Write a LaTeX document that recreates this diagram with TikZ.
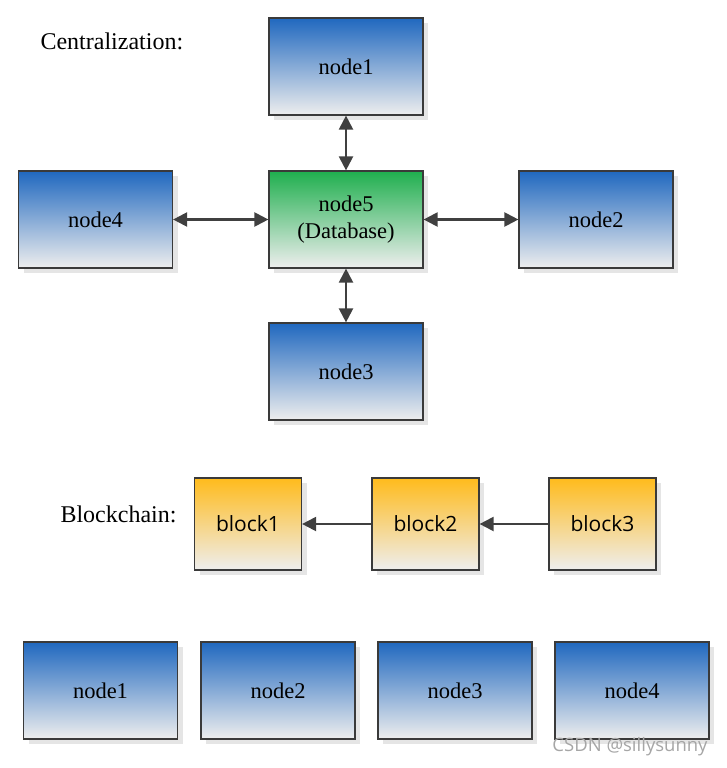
\documentclass[tikz,border=0pt]{standalone}
\usepackage{fontspec}
\setmainfont{Liberation Serif}
\newfontfamily\blockfont{Open Sans}
\usetikzlibrary{arrows.meta,shadows}
\definecolor{boxline}{HTML}{3A3A3A}
\definecolor{arrowgray}{HTML}{404040}
\definecolor{topblue}{HTML}{2068BF}
\definecolor{topgreen}{HTML}{1FAF4E}
\definecolor{toporange}{HTML}{FFBB1C}
\definecolor{bottomgray}{HTML}{EEEEEE}
\begin{document}
\begin{tikzpicture}[x=1pt,y=-1pt,
  box/.style={draw=boxline,line width=1.2pt,minimum width=154pt,minimum height=97pt,
    inner sep=0pt,top color=topblue,bottom color=bottomgray,
    drop shadow={shadow xshift=5pt,shadow yshift=-5pt,fill=gray!40,opacity=0.5},
    font=\fontsize{22.5}{27}\selectfont,align=center},
  dbbox/.style={box,top color=topgreen},
  blockbox/.style={box,minimum width=107pt,minimum height=92pt,top color=toporange,
    font=\blockfont\fontsize{21}{25}\selectfont},
  link/.style={draw=arrowgray,line width=2.2pt,{Triangle[length=14pt,width=14pt]}-{Triangle[length=14pt,width=14pt]}},
  chain/.style={draw=arrowgray,line width=2.2pt,-{Triangle[length=14pt,width=14pt]}},
  title/.style={anchor=west,font=\fontsize{24}{28}\selectfont}]
\useasboundingbox (0,0) rectangle (726,768);
% centralization
\node[title] (ctitle) at (37,41) {Centralization:};
\node[box] (c1) at (346,66.5) {node1};
\node[dbbox] (c5) at (346,219.5) {node5\\(Database)};
\node[box] (c4) at (95.5,219.5) {node4};
\node[box] (c2) at (596,219.5) {node2};
\node[box] (c3) at (346,371.5) {node3};
\draw[link] (c1) -- (c5);
\draw[link] (c4) -- (c5);
\draw[link] (c5) -- (c2);
\draw[link] (c5) -- (c3);
% blockchain
\node[title] (btitle) at (57,514) {Blockchain:};
\node[blockbox] (b1) at (248,524) {block1};
\node[blockbox] (b2) at (425.5,524) {block2};
\node[blockbox] (b3) at (602.5,524) {block3};
\draw[chain] (b2) -- (b1);
\draw[chain] (b3) -- (b2);
% peers
\node[box] (p1) at (100.5,690.5) {node1};
\node[box] (p2) at (278,690.5) {node2};
\node[box] (p3) at (455,690.5) {node3};
\node[box] (p4) at (632,690.5) {node4};
\node[text=gray!70,font=\blockfont\fontsize{18.5}{22}\selectfont] (mark) at (630,747) {CSDN @sillysunny};
\end{tikzpicture}
\end{document}
